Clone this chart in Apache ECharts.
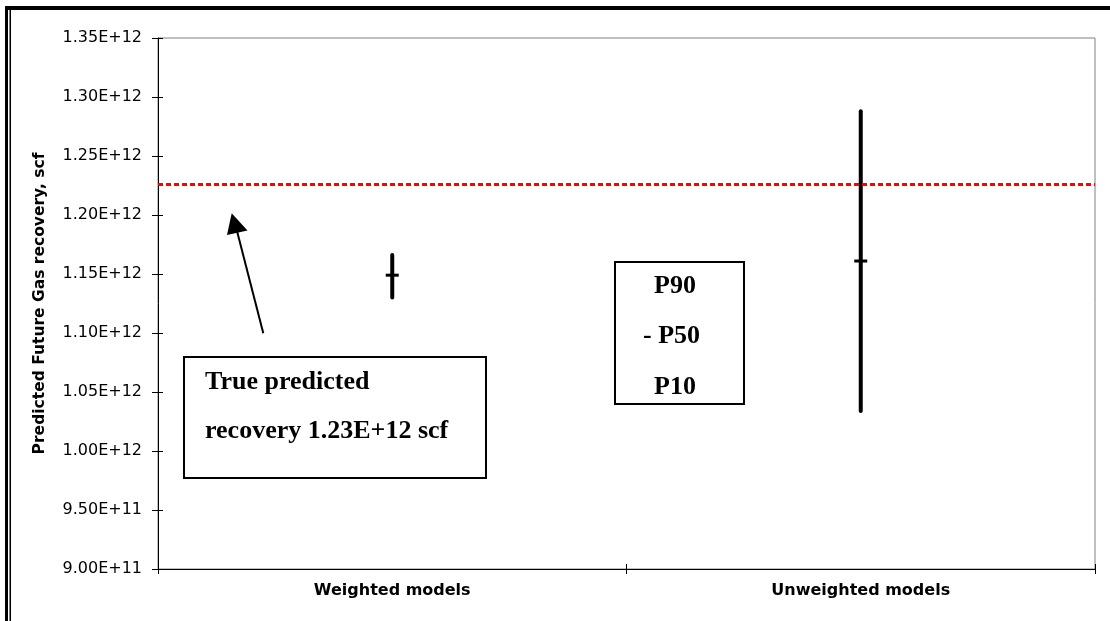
<!DOCTYPE html>
<html>
<head>
<meta charset="utf-8">
<style>
  html, body { margin: 0; padding: 0; background: #ffffff; }
  #chart { width: 1110px; height: 621px; }
</style>
<script src="https://cdn.jsdelivr.net/npm/echarts@6/dist/echarts.min.js"></script>
</head>
<body>
<div id="chart"></div>
<script>
// Model groups on the category axis
const categories = ['Weighted models', 'Unweighted models'];
// Predicted future gas recovery (scf) per group
const p90 = [1.166e12, 1.288e12];
const p50 = [1.149e12, 1.161e12];
const p10 = [1.130e12, 1.034e12];
// Reference value for the true predicted recovery
const trueRecovery = 1.226e12;
// Value axis range and step
const yMin = 9.0e11;
const yMax = 1.35e12;
const yStep = 5.0e10;

const chart = echarts.init(document.getElementById('chart'), null, { renderer: 'canvas' });

const sansFont = 'DejaVu Sans';
const serifFont = '"Liberation Serif", "Times New Roman", serif';
const gridBox = { left: 158, right: 15, top: 38, bottom: 52 };

function sciLabel(v) {
  return v.toExponential(2).replace('e+', 'E+').replace('e-', 'E-');
}

// Vertical P90-P10 bar with a short P50 cross mark
function renderRange(params, api) {
  const idx = api.value(0);
  const hi = api.coord([idx, api.value(1)]);
  const mid = api.coord([idx, api.value(2)]);
  const lo = api.coord([idx, api.value(3)]);
  return {
    type: 'group',
    children: [
      {
        type: 'line',
        shape: { x1: hi[0], y1: hi[1], x2: lo[0], y2: lo[1] },
        style: { stroke: '#000000', lineWidth: 4, lineCap: 'round' }
      },
      {
        type: 'line',
        shape: { x1: mid[0] - 6.5, y1: mid[1], x2: mid[0] + 6.5, y2: mid[1] },
        style: { stroke: '#000000', lineWidth: 3 }
      }
    ]
  };
}

const rangeData = categories.map((c, i) => [i, p90[i], p50[i], p10[i]]);

const option = {
  backgroundColor: '#ffffff',
  animation: false,
  grid: [
    Object.assign({ show: true, borderColor: '#808080', borderWidth: 1, backgroundColor: 'transparent' }, gridBox),
    Object.assign({ show: false }, gridBox)
  ],
  xAxis: [
    {
      type: 'category',
      gridIndex: 0,
      data: categories,
      boundaryGap: true,
      axisLine: { show: true, lineStyle: { color: '#000000', width: 1 } },
      axisTick: { show: true, length: 5, alignWithLabel: false, lineStyle: { color: '#000000' } },
      axisLabel: {
        margin: 14,
        color: '#000000',
        fontFamily: sansFont,
        fontWeight: 'bold',
        fontSize: 16
      },
      splitLine: { show: false }
    },
    {
      type: 'category',
      gridIndex: 1,
      data: categories,
      boundaryGap: true,
      axisLine: { show: false },
      axisTick: { show: true, inside: true, length: 5, lineStyle: { color: '#000000' } },
      axisLabel: { show: false },
      splitLine: { show: false }
    }
  ],
  yAxis: [
    {
      type: 'value',
      gridIndex: 0,
      min: yMin,
      max: yMax,
      interval: yStep,
      name: 'Predicted Future Gas recovery, scf',
      nameLocation: 'middle',
      nameGap: 110,
      nameRotate: 90,
      nameTextStyle: {
        color: '#000000',
        fontFamily: sansFont,
        fontWeight: 'bold',
        fontSize: 15.5
      },
      axisLine: { show: true, lineStyle: { color: '#000000', width: 1 } },
      axisTick: { show: true, length: 6, lineStyle: { color: '#000000' } },
      axisLabel: {
        margin: 16,
        color: '#000000',
        fontFamily: sansFont,
        fontSize: 16,
        formatter: sciLabel
      },
      splitLine: { show: false }
    },
    {
      type: 'value',
      gridIndex: 1,
      min: yMin,
      max: yMax,
      interval: yStep,
      axisLine: { show: false },
      axisTick: { show: true, inside: true, length: 5, lineStyle: { color: '#000000' } },
      axisLabel: { show: false },
      splitLine: { show: false }
    }
  ],
  series: [
    {
      type: 'custom',
      name: 'Recovery range',
      xAxisIndex: 0,
      yAxisIndex: 0,
      data: rangeData,
      renderItem: renderRange,
      z: 3,
      markLine: {
        silent: true,
        symbol: 'none',
        label: { show: false },
        lineStyle: { color: '#ff0000', width: 3, type: [5, 3] },
        data: [{ yAxis: trueRecovery }]
      }
    }
  ],
  graphic: [
    // page frame: heavy rule on top, double rule on the left
    { type: 'rect', shape: { x: 5, y: 6, width: 1105, height: 4 }, style: { fill: '#000000' }, z: 10 },
    { type: 'rect', shape: { x: 5, y: 6, width: 3, height: 615 }, style: { fill: '#000000' }, z: 10 },
    { type: 'rect', shape: { x: 9.5, y: 6, width: 1.5, height: 615 }, style: { fill: '#000000' }, z: 10 },
    // annotation box for the true recovery value
    {
      type: 'rect',
      shape: { x: 184, y: 357, width: 302, height: 121 },
      style: { fill: '#ffffff', stroke: '#000000', lineWidth: 2 },
      z: 5
    },
    {
      type: 'text',
      x: 205, y: 382,
      style: {
        text: 'True predicted',
        font: 'bold 26px ' + serifFont,
        fill: '#000000',
        align: 'left',
        verticalAlign: 'middle'
      },
      z: 6
    },
    {
      type: 'text',
      x: 205, y: 431,
      style: {
        text: 'recovery 1.23E+12 scf',
        font: 'bold 26px ' + serifFont,
        fill: '#000000',
        align: 'left',
        verticalAlign: 'middle'
      },
      z: 6
    },
    // arrow pointing at the dashed reference line
    {
      type: 'line',
      shape: { x1: 263.3, y1: 333.3, x2: 237, y2: 231 },
      style: { stroke: '#000000', lineWidth: 2 },
      z: 6
    },
    {
      type: 'polygon',
      shape: { points: [[231.7, 213.3], [227, 235], [247.5, 230.5]] },
      style: { fill: '#000000' },
      z: 6
    },
    // key box for the percentile marks
    {
      type: 'rect',
      shape: { x: 615, y: 262, width: 129, height: 142 },
      style: { fill: '#ffffff', stroke: '#000000', lineWidth: 2 },
      z: 5
    },
    {
      type: 'text',
      x: 675, y: 286.5,
      style: { text: 'P90', font: 'bold 26px ' + serifFont, fill: '#000000', align: 'center', verticalAlign: 'middle' },
      z: 6
    },
    {
      type: 'text',
      x: 671.5, y: 336.5,
      style: { text: '- P50', font: 'bold 26px ' + serifFont, fill: '#000000', align: 'center', verticalAlign: 'middle' },
      z: 6
    },
    {
      type: 'text',
      x: 675, y: 387,
      style: { text: 'P10', font: 'bold 26px ' + serifFont, fill: '#000000', align: 'center', verticalAlign: 'middle' },
      z: 6
    }
  ]
};

chart.setOption(option);
</script>
</body>
</html>
